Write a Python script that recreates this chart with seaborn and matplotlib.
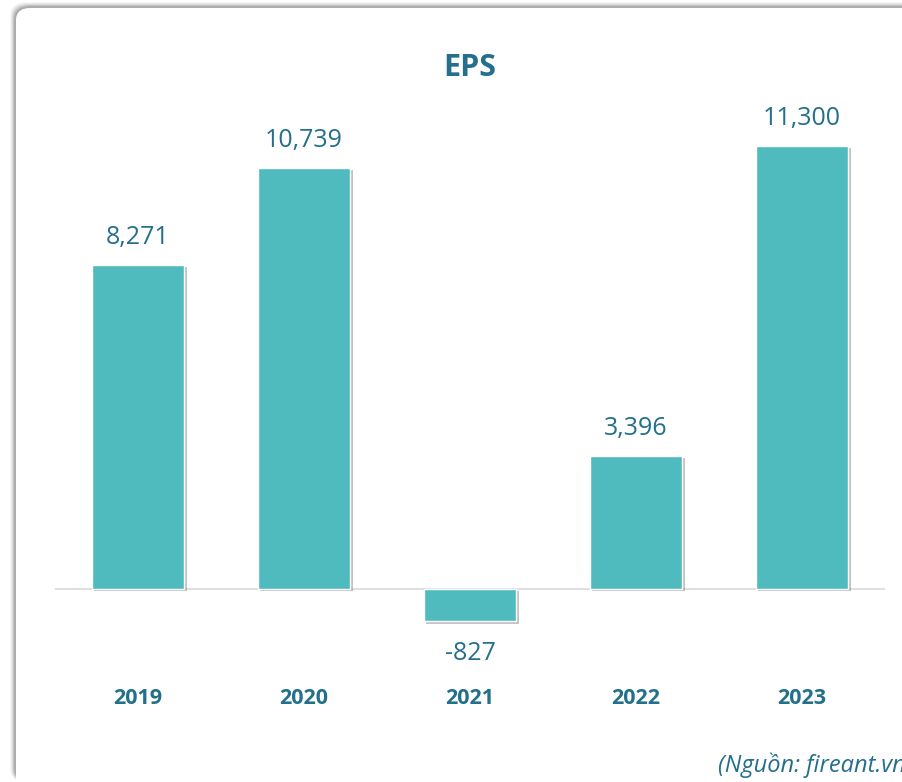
import matplotlib
matplotlib.use("Agg")
import matplotlib.pyplot as plt
import matplotlib.patheffects as pe
from matplotlib.patches import FancyBboxPatch
import seaborn as sns
import pandas as pd

# chart data
years = ["2019", "2020", "2021", "2022", "2023"]
eps = [8271, 10739, -827, 3396, 11300]
value_labels = ["8,271", "10,739", "-827", "3,396", "11,300"]

title = "EPS"
source_note = "(Nguồn: fireant.vn)"

BAR_COLOR = "#4FBBBF"
TEXT_COLOR = "#236F8C"

sns.set_theme(style="white")
plt.rcParams['font.family'] = ['Open Sans', 'DejaVu Sans']

fig = plt.figure(figsize=(9.03, 7.82), dpi=100)
W, H = 903, 782

# card background with a soft shadow
for i, a in enumerate([0.03, 0.05, 0.07, 0.09, 0.12]):
    grow = 6 - i
    shadow = FancyBboxPatch(((16 - grow) / W, 0 / H), (920 - 16 + 2 * grow) / W, (774 + grow) / H,
                            boxstyle="round,pad=0,rounding_size=0.018",
                            transform=fig.transFigure, facecolor="black", edgecolor="none",
                            alpha=a, zorder=0)
    fig.patches.append(shadow)
card = FancyBboxPatch((16 / W, -20 / H), 920 / W, (774 + 20) / H,
                      boxstyle="round,pad=0,rounding_size=0.016",
                      transform=fig.transFigure, facecolor="white", edgecolor="none", zorder=1)
fig.patches.append(card)

ax = fig.add_axes([55 / W, 0.1716, 830 / W, 0.6767])
ax.set_zorder(2)
ax.patch.set_alpha(0)

df = pd.DataFrame({"year": years, "eps": eps})
sns.barplot(data=df, x="year", y="eps", color=BAR_COLOR, width=0.56, saturation=1, ax=ax)

for bar in ax.patches:
    bar.set_path_effects([pe.SimplePatchShadow(offset=(1.5, -1.5), shadow_rgbFace="#888888", alpha=0.5),
                          pe.Normal()])

ax.set_xlim(-0.5, 4.5)
ax.set_ylim(-1500, 12000)
ax.axhline(0, color="#D9D9D9", lw=1.2, zorder=0)

for i, (v, lab) in enumerate(zip(eps, value_labels)):
    off = 19.5 if v >= 0 else -23
    ax.annotate(lab, (i, v), xytext=(0, off), textcoords="offset points",
                ha="center", va="center", fontsize=18, color=TEXT_COLOR)

ax.set_xlabel("")
ax.set_ylabel("")
ax.set_yticks([])
ax.tick_params(axis="x", length=0, pad=29)
for t in ax.get_xticklabels():
    t.set_fontweight("bold")
    t.set_fontsize(15.5)
    t.set_color(TEXT_COLOR)
sns.despine(ax=ax, left=True, bottom=True)

fig.text(470 / W, 1 - 68 / H, title, ha="center", va="center", fontsize=22,
         fontweight="bold", color=TEXT_COLOR, zorder=3)
fig.text(718 / W, 1 - 765 / H, source_note, ha="left", va="center", fontsize=17,
         style="italic", color=TEXT_COLOR, zorder=3)

fig.savefig("out.png", dpi=100)
